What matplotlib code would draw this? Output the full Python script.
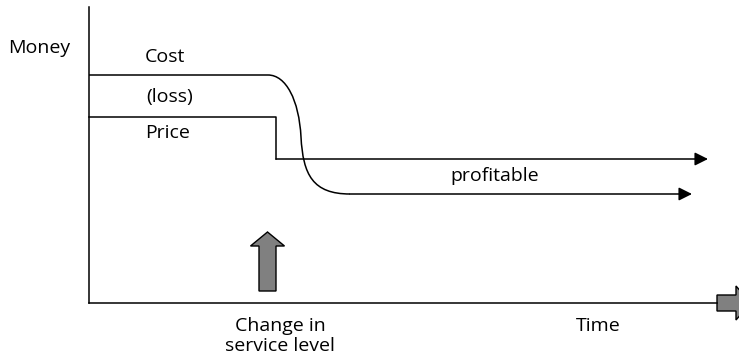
import numpy as np
import matplotlib
matplotlib.use("Agg")
import matplotlib.pyplot as plt
from matplotlib.path import Path
import matplotlib.patches as mpatches

# diagram coordinates in pixel space (y grows downward)
axis_y = [7, 303]
axis_x = [89, 717]
cost_level, cost_low = 75, 194
cost_drop_start, cost_drop_end, cost_end = 268, 350, 692
price_level, price_low = 117, 159
price_step_x, price_end = 276, 708

labels = ["Money", "Cost", "(loss)", "Price", "profitable", "Change in\nservice level", "Time"]
label_xy = [(39, 48), (165, 57), (170, 97), (168, 133), (495, 176), (280, 336), (598, 326)]

fig = plt.figure(figsize=(7.39, 3.63), dpi=100)
ax = fig.add_axes([0, 0, 1, 1])
ax.set_xlim(0, 739)
ax.set_ylim(363, 0)
ax.axis("off")

lw = 1.1
# axes
ax.plot([axis_x[0], axis_x[0]], axis_y, color="black", lw=lw)
ax.plot(axis_x, [axis_y[1], axis_y[1]], color="black", lw=lw)
ax.add_patch(mpatches.FancyArrow(axis_x[1], axis_y[1], 34, 0, width=16, head_width=34,
                                 head_length=15, length_includes_head=True,
                                 fc="#808080", ec="black", lw=1))

# cost curve: flat, S-shaped drop, then flat with arrow
mid_x = 301
verts = [(axis_x[0], cost_level), (cost_drop_start, cost_level),
         (286, cost_level), (mid_x - 2, 100), (mid_x, 137),
         (mid_x + 2, 175), (313, cost_low), (cost_drop_end, cost_low)]
codes = [Path.MOVETO, Path.LINETO, Path.CURVE4, Path.CURVE4, Path.CURVE4,
         Path.CURVE4, Path.CURVE4, Path.CURVE4]
ax.add_patch(mpatches.PathPatch(Path(verts, codes), fc="none", ec="black", lw=lw))
ax.annotate("", xy=(cost_end, cost_low), xytext=(cost_drop_end, cost_low),
            arrowprops=dict(arrowstyle="-|>,head_length=0.8,head_width=0.4",
                            color="black", lw=lw, shrinkA=0, shrinkB=0))

# price: flat, step down, then flat with arrow
ax.plot([axis_x[0], price_step_x, price_step_x], [price_level, price_level, price_low],
        color="black", lw=lw)
ax.annotate("", xy=(price_end, price_low), xytext=(price_step_x, price_low),
            arrowprops=dict(arrowstyle="-|>,head_length=0.8,head_width=0.4",
                            color="black", lw=lw, shrinkA=0, shrinkB=0))

# change in service level arrow
ax.add_patch(mpatches.FancyArrow(267.5, 291, 0, -59, width=17, head_width=34,
                                 head_length=14, length_includes_head=True,
                                 fc="#808080", ec="black", lw=1))

for txt, (x, y) in zip(labels, label_xy):
    ax.text(x, y, txt, ha="center", va="center", fontsize=14, family="Open Sans",
            linespacing=1.1)

fig.savefig("out.png")
